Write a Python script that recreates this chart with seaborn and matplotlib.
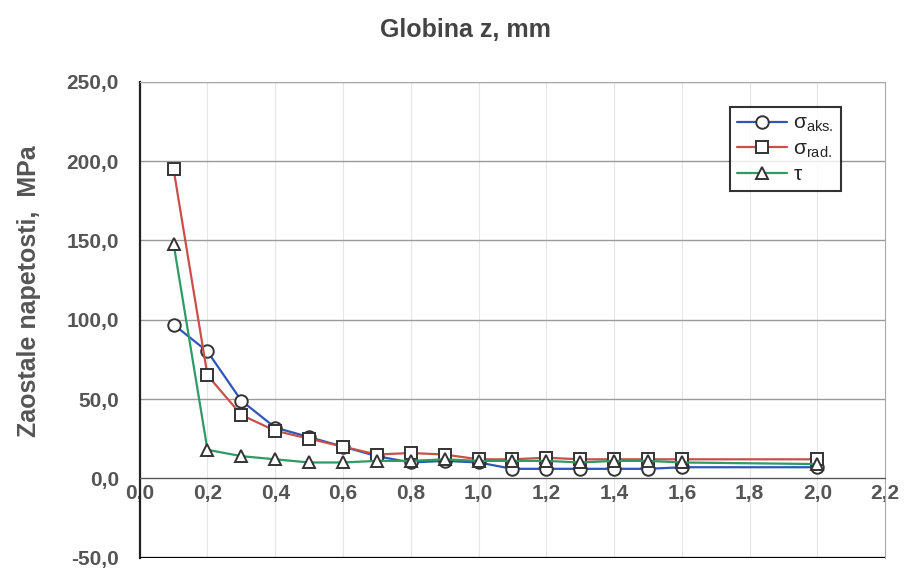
import numpy as np
import pandas as pd
import matplotlib
matplotlib.use("Agg")
import matplotlib.pyplot as plt
import seaborn as sns

# depth z (mm) and residual stresses (MPa)
globina = [0.1, 0.2, 0.3, 0.4, 0.5, 0.6, 0.7, 0.8, 0.9, 1.0,
           1.1, 1.2, 1.3, 1.4, 1.5, 1.6, 2.0]
sigma_aks = [97, 80, 49, 32, 26, 20, 14, 10, 11, 10, 6, 6, 6, 6, 6, 7, 7]
sigma_rad = [195, 65, 40, 30, 25, 20, 15, 16, 15, 12, 12, 13, 12, 12, 12, 12, 12]
tau = [148, 18, 14, 12, 10, 10, 11, 11, 12, 11, 11, 11, 10, 11, 11, 10, 9]

labels = [r"$\sigma_{aks.}$", r"$\sigma_{rad.}$", r"$\tau$"]
colors = ["#2f55b8", "#c8504a", "#2e9a66"]
markers = ["o", "s", "^"]

df = pd.DataFrame({"z": globina, "aks": sigma_aks, "rad": sigma_rad, "tau": tau})

sns.set_style("white")
plt.rcParams["font.family"] = ["Liberation Sans", "DejaVu Sans"]
plt.rcParams["mathtext.default"] = "regular"

fig = plt.figure(figsize=(9.07, 5.69), dpi=100)
ax = fig.add_axes([0.154, 0.02, 0.822, 0.836])

for col, lab, c, m in zip(["aks", "rad", "tau"], labels, colors, markers):
    sns.lineplot(data=df, x="z", y=col, ax=ax, color=c, marker=m, label=lab,
                 markersize=9, markerfacecolor="white", markeredgecolor="#333333",
                 markeredgewidth=1.4, linewidth=1.6)

ax.set_xlim(0, 2.2)
ax.set_ylim(-50, 250)
ax.set_xticks(np.arange(0, 2.21, 0.2))
ax.set_yticks(np.arange(-50, 251, 50))
ax.set_xticklabels([f"{v:.1f}".replace(".", ",") for v in np.arange(0, 2.21, 0.2)])
ax.set_yticklabels([f"{v:.1f}".replace(".", ",") for v in np.arange(-50, 251, 50)])

ax.grid(axis="y", color="#9a9a9a", linewidth=1.0)
ax.grid(axis="x", color="#e6e6e6", linewidth=0.8)

# x axis crosses at zero, frame line at the bottom
ax.spines["bottom"].set_position(("data", 0))
ax.spines["bottom"].set_color("#555555")
ax.axhline(-50, color="black", linewidth=1.6, zorder=3)
ax.spines["left"].set_color("#222222")
ax.spines["left"].set_linewidth(1.6)
ax.spines["top"].set_color("#aaaaaa")
ax.spines["right"].set_color("#aaaaaa")

ax.tick_params(axis="x", direction="inout", length=6, color="#444444",
               labelsize=15, labelcolor="#555555", pad=1)
ax.tick_params(axis="y", direction="out", length=5, color="#444444",
               labelsize=15, labelcolor="#555555", pad=10)
for t in ax.get_xticklabels() + ax.get_yticklabels():
    t.set_fontweight("bold")

ax.set_xlabel("")
ax.set_ylabel("Zaostale napetosti,  MPa", fontsize=18, fontweight="bold",
              color="#555555")
ax.yaxis.set_label_coords(-0.133, 0.56)
fig.text(0.513, 0.947, "Globina z, mm", ha="center", va="center",
         fontsize=18, fontweight="bold", color="#444444")

leg = ax.legend(loc="upper right", bbox_to_anchor=(0.955, 0.97), fontsize=15,
                frameon=True, fancybox=False, edgecolor="black",
                handlelength=2.4, borderpad=0.35, labelspacing=0.25,
                handletextpad=0.3)
leg.get_frame().set_linewidth(1.5)

fig.savefig("out.png", dpi=100)
